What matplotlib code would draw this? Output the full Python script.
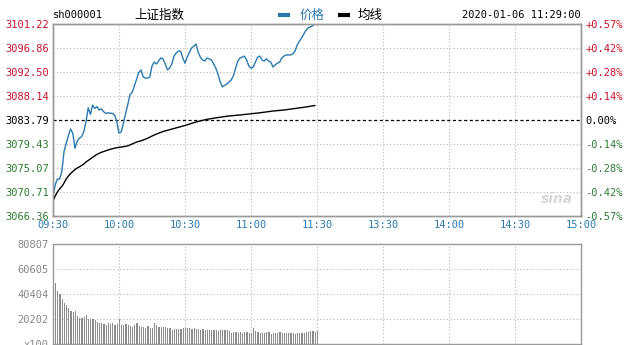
import matplotlib
matplotlib.use("Agg")
import matplotlib.pyplot as plt
from matplotlib.lines import Line2D

# minutes since 09:30 (trading time, lunch break removed)
price_minutes = list(range(120))
price = [
    3069.86, 3072.00, 3073.08, 3073.08, 3074.40, 3078.03, 3079.56, 3080.94, 3082.16, 3081.38,
    3078.65, 3079.98, 3080.50, 3080.76, 3081.67, 3083.48, 3086.00, 3084.80, 3086.50, 3085.90,
    3086.20, 3085.60, 3085.80, 3085.30, 3085.00, 3085.10, 3085.00, 3085.00, 3084.70, 3083.50,
    3081.40, 3081.60, 3083.20, 3085.00, 3086.60, 3088.45, 3088.80, 3090.00, 3091.20, 3092.45,
    3092.87, 3091.60, 3091.40, 3091.40, 3091.60, 3093.60, 3094.30, 3093.96, 3094.50, 3095.05,
    3094.90, 3093.96, 3092.90, 3093.20, 3093.96, 3095.40, 3095.95, 3096.30, 3096.30, 3095.05,
    3094.10, 3095.20, 3096.10, 3096.86, 3097.20, 3097.60, 3096.10, 3095.20, 3094.70, 3094.50,
    3095.05, 3094.90, 3094.70, 3094.00, 3093.20, 3092.10, 3090.70, 3089.80, 3090.10, 3090.30,
    3090.70, 3091.05, 3091.80, 3093.20, 3094.50, 3095.05, 3095.20, 3095.40, 3094.70, 3093.60,
    3093.20, 3093.40, 3094.30, 3095.20, 3095.40, 3094.70, 3094.50, 3094.90, 3094.50, 3094.30,
    3093.40, 3093.80, 3094.10, 3094.30, 3095.05, 3095.40, 3095.60, 3095.60, 3095.60, 3095.80,
    3096.30, 3097.40, 3098.10, 3098.70, 3099.40, 3100.10, 3100.50, 3100.70, 3100.90, 3101.22,
]

avg_minutes = [0, 1, 2, 3, 4, 5, 6, 7, 8, 9, 10, 11, 12, 13, 14, 15, 16, 18, 20, 22, 24, 26,
               28, 30, 32, 34, 36, 38, 40, 43, 46, 50, 55, 60, 65, 70, 75, 80, 85, 90, 95,
               100, 105, 110, 115, 119]
avg_price = [3069.08, 3070.00, 3070.72, 3071.27, 3071.72, 3072.35, 3073.08, 3073.62, 3074.08,
             3074.44, 3074.80, 3075.07, 3075.29, 3075.53, 3075.80, 3076.17, 3076.44, 3077.02,
             3077.56, 3077.93, 3078.20, 3078.47, 3078.67, 3078.83, 3078.94, 3079.10, 3079.43,
             3079.80, 3080.01, 3080.47, 3081.07, 3081.70, 3082.25, 3082.79, 3083.43, 3083.92,
             3084.24, 3084.52, 3084.70, 3084.92, 3085.15, 3085.42, 3085.60, 3085.88, 3086.15,
             3086.42]

volume = [
    49500, 42500, 40000, 36500, 33500, 31500, 29000, 26500, 25500, 27000,
    22600, 20700, 21000, 21500, 23400, 20500, 20000, 20300, 19400, 18000,
    16700, 17200, 16500, 15400, 16700, 16000, 17000, 15500, 16000, 20500,
    15400, 15000, 16500, 15200, 14500, 14000, 15000, 16700, 14500, 13500,
    13500, 12700, 14500, 12800, 13200, 16700, 15500, 14000, 13500, 13800,
    13500, 12700, 13000, 11300, 12500, 12000, 11800, 12200, 12700, 13000,
    13200, 12700, 12500, 12800, 12300, 12000, 11500, 11800, 11300, 11600,
    11300, 11000, 11300, 11200, 10800, 11300, 11500, 11000, 11300, 10500,
    9200, 10000, 9800, 9200, 9500, 9200, 10000, 9400, 8600, 9000,
    12700, 10500, 9800, 9000, 8800, 8600, 9500, 10000, 8400, 8800,
    8600, 9200, 9800, 8500, 8800, 9000, 8600, 8800, 8500, 8200,
    8600, 8800, 8700, 9200, 9600, 10000, 10500, 10200, 9800, 10800,
]

price_ticks = [3066.36, 3070.71, 3075.07, 3079.43, 3083.79, 3088.14, 3092.50, 3096.86, 3101.22]
pct_labels = ["-0.57%", "-0.42%", "-0.28%", "-0.14%", "0.00%", "+0.14%", "+0.28%", "+0.42%", "+0.57%"]
prev_close = 3083.79
time_ticks = [0, 30, 60, 90, 120, 150, 180, 210, 240]
time_labels = ["09:30", "10:00", "10:30", "11:00", "11:30", "13:30", "14:00", "14:30", "15:00"]
vol_ticks = [0, 20202, 40404, 60605, 80807]
vol_labels = ["x100", "20202", "40404", "60605", "80807"]

RED = "#c8102e"
GREEN = "#2e7d32"
BLUE = "#2a7ab0"
GRID = "#b8b8b8"
MONO = "DejaVu Sans Mono"
CJK = ["Noto Sans CJK SC", "DejaVu Sans"]

W, H = 632, 345
fig = plt.figure(figsize=(W / 100, H / 100), dpi=100, facecolor="white")
ax = fig.add_axes([53 / W, 1 - 216 / H, 528 / W, 192 / H])
axv = fig.add_axes([53 / W, 1 - 344 / H, 528 / W, 100 / H])

# --- price panel ---
ax.set_xlim(0, 240)
ax.set_ylim(price_ticks[0], price_ticks[-1])
for t in time_ticks[1:-1]:
    ax.axvline(t, color=GRID, lw=0.8, ls=(0, (1, 2)), zorder=1)
for p in price_ticks[1:-1]:
    if p == prev_close:
        ax.axhline(p, color="black", lw=0.9, ls=(0, (2.5, 2)), zorder=2)
    else:
        ax.axhline(p, color=GRID, lw=0.8, ls=(0, (1, 2)), zorder=1)

ax.plot(price_minutes, price, color=BLUE, lw=1.0, zorder=3)
ax.plot(avg_minutes, avg_price, color="black", lw=1.0, zorder=3)

ax.set_yticks(price_ticks)
ax.set_yticklabels(["%.2f" % p for p in price_ticks], fontfamily=MONO, fontsize=7.5)
for lab, p in zip(ax.get_yticklabels(), price_ticks):
    lab.set_color(RED if p > prev_close else (GREEN if p < prev_close else "black"))
ax.set_xticks(time_ticks)
ax.set_xticklabels(time_labels, fontfamily=MONO, fontsize=7.5, color=BLUE)
ax.tick_params(length=0, pad=3)

ax2 = ax.twinx()
ax2.set_ylim(price_ticks[0], price_ticks[-1])
ax2.set_yticks(price_ticks)
ax2.set_yticklabels(pct_labels, fontfamily=MONO, fontsize=7.5)
for lab, p in zip(ax2.get_yticklabels(), price_ticks):
    lab.set_color(RED if p > prev_close else (GREEN if p < prev_close else "black"))
ax2.tick_params(length=0, pad=3)

for a in (ax, ax2, axv):
    for s in a.spines.values():
        s.set_color("#999999")
        s.set_linewidth(1.0)

# header texts
fig.text(53 / W, 1 - 15 / H, "sh000001", fontfamily=MONO, fontsize=7.5, va="center")
fig.text(134 / W, 1 - 15 / H, "上证指数", family=CJK, fontsize=9, va="center")
fig.add_artist(Line2D([278 / W, 290 / W], [1 - 15 / H, 1 - 15 / H], color=BLUE, lw=3,
                      transform=fig.transFigure, solid_capstyle="butt"))
fig.text(300 / W, 1 - 15 / H, "价格", color=BLUE, family=CJK, fontsize=9, va="center")
fig.add_artist(Line2D([338 / W, 350 / W], [1 - 15 / H, 1 - 15 / H], color="black", lw=3,
                      transform=fig.transFigure, solid_capstyle="butt"))
fig.text(358 / W, 1 - 15 / H, "均线", family=CJK, fontsize=9, va="center")
fig.text(581 / W, 1 - 15 / H, "2020-01-06 11:29:00", fontfamily=MONO, fontsize=7.5,
         va="center", ha="right")
ax.text(0.985, 0.05, "sina", transform=ax.transAxes, ha="right", va="bottom",
        fontsize=10, style="italic", fontweight="bold", color="#d8d8d8")

# --- volume panel ---
axv.set_xlim(0, 240)
axv.set_ylim(0, vol_ticks[-1])
for t in time_ticks[1:-1]:
    axv.axvline(t, color=GRID, lw=0.8, ls=(0, (1, 2)), zorder=1)
for v in vol_ticks[1:-1]:
    axv.axhline(v, color=GRID, lw=0.8, ls=(0, (1, 2)), zorder=1)
axv.bar([m + 1.2 for m in price_minutes], volume, width=0.55, color="#8c8c8c", zorder=2)
axv.set_yticks(vol_ticks)
axv.set_yticklabels(vol_labels, fontfamily=MONO, fontsize=7.5, color="#888888")
axv.set_xticks([])
axv.tick_params(length=0, pad=3)

fig.savefig("out.png", dpi=100, facecolor="white")
